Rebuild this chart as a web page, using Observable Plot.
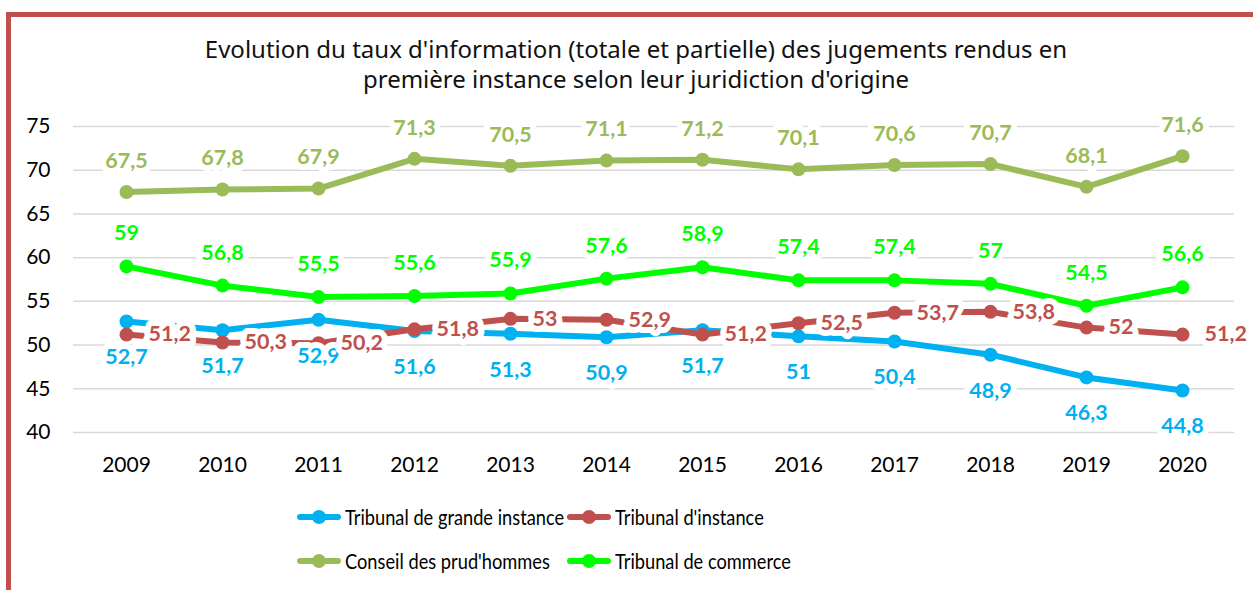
<!DOCTYPE html>
<html>
<head>
<meta charset="utf-8">
<script src="https://cdn.jsdelivr.net/npm/d3@7"></script>
<script src="https://cdn.jsdelivr.net/npm/@observablehq/plot@0.6"></script>
<style>
  html, body { margin: 0; padding: 0; background: #fff; width: 1253px; height: 590px; overflow: hidden; }
  #page { position: relative; width: 1253px; height: 590px; }
  .bar { position: absolute; background: #C0504D; }
  .tl { position: absolute; left: 12px; width: 1248px; text-align: center; height: 30px; line-height: 30px;
        font-family: "Noto Sans", sans-serif; font-size: 24px; color: #111; white-space: nowrap; }
  #chart { position: absolute; left: 0; top: 0; }
  .leg { position: absolute; display: flex; align-items: center; font-family: Lato, sans-serif; font-size: 20.5px; color: #000; white-space: nowrap; }
  .leg span { display: inline-block; transform: scaleX(0.89); transform-origin: left center; }
  .sw { position: relative; width: 44px; height: 16px; margin-right: 4px; }
  .sw .ln { position: absolute; left: 0; right: 0; top: 5px; height: 6px; border-radius: 3px; }
  .sw .dt { position: absolute; left: 15px; top: 1px; width: 14px; height: 14px; border-radius: 7px; }
</style>
</head>
<body>
<div id="page">
  <div class="bar" style="left:6px; top:12px; width:1247px; height:5px;"></div>
  <div class="bar" style="left:6px; top:12px; width:5px; height:578px;"></div>
  <div class="tl" style="top:34px;">Evolution du taux d'information (totale et partielle) des jugements rendus en</div>
  <div class="tl" style="top:64px;">première instance selon leur juridiction d'origine</div>
  <div id="chart"></div>
  <div id="legend"></div>
</div>
<script>
const years = [2009, 2010, 2011, 2012, 2013, 2014, 2015, 2016, 2017, 2018, 2019, 2020];
const seriesNames = ["Tribunal de grande instance", "Tribunal d'instance", "Conseil des prud'hommes", "Tribunal de commerce"];
const seriesColors = ["#00B0F0", "#C0504D", "#9BBB59", "#00FF00"];
const tgi = [52.7, 51.7, 52.9, 51.6, 51.3, 50.9, 51.7, 51, 50.4, 48.9, 46.3, 44.8];
const ti  = [51.2, 50.3, 50.2, 51.8, 53, 52.9, 51.2, 52.5, 53.7, 53.8, 52, 51.2];
const cph = [67.5, 67.8, 67.9, 71.3, 70.5, 71.1, 71.2, 70.1, 70.6, 70.7, 68.1, 71.6];
const tc  = [59, 56.8, 55.5, 55.6, 55.9, 57.6, 58.9, 57.4, 57.4, 57, 54.5, 56.6];
const yTicks = [40, 45, 50, 55, 60, 65, 70, 75];

const allValues = [tgi, ti, cph, tc];
const data = allValues.flatMap((vals, s) => years.map((yr, i) => ({ year: yr, value: vals[i], series: seriesNames[s] })));
const colorOf = Object.fromEntries(seriesNames.map((n, i) => [n, seriesColors[i]]));
const fmt = v => String(v).replace(".", ",");
const bySeries = n => data.filter(d => d.series === n);

const labelBase = { text: d => fmt(d.value), fill: d => colorOf[d.series], fontWeight: "bold", fontSize: 21.5,
  fontFamily: "Lato, sans-serif", stroke: "white", strokeWidth: 12, paintOrder: "stroke", strokeLinejoin: "round" };

const marks = [
  Plot.ruleY(yTicks, { stroke: "#d9d9d9", strokeWidth: 1.5 }),
  Plot.axisY({ ticks: yTicks, tickSize: 0, tickPadding: 23, label: null, fontSize: 21 }),
  Plot.axisX({ tickSize: 0, tickPadding: 25, label: null, fontSize: 21, tickFormat: d => String(d) })
];
seriesNames.forEach(n => {
  marks.push(Plot.line(bySeries(n), { x: "year", y: "value", stroke: colorOf[n], strokeWidth: 6 }));
  marks.push(Plot.dot(bySeries(n), { x: "year", y: "value", fill: colorOf[n], r: 7 }));
});
// data labels
marks.push(Plot.text(bySeries(seriesNames[0]), { ...labelBase, x: "year", y: "value", dy: 36 }));
marks.push(Plot.text(bySeries(seriesNames[1]), { ...labelBase, x: "year", y: "value", dx: 22, textAnchor: "start" }));
marks.push(Plot.text(bySeries(seriesNames[2]), { ...labelBase, x: "year", y: "value", dy: -31 }));
marks.push(Plot.text(bySeries(seriesNames[3]), { ...labelBase, x: "year", y: "value", dy: -33 }));

const chart = Plot.plot({
  width: 1253, height: 490,
  marginLeft: 73, marginRight: 19, marginTop: 126, marginBottom: 58,
  style: { fontFamily: "Lato, sans-serif", fontSize: "21px", color: "#000", background: "transparent", overflow: "visible" },
  x: { type: "point", domain: years, padding: 0.5 },
  y: { domain: [40, 75] },
  marks
});
document.getElementById("chart").appendChild(chart);

// legend
const legPos = [[297, 517], [567, 517], [297, 561], [567, 561]];
const legend = document.getElementById("legend");
seriesNames.forEach((n, i) => {
  const el = document.createElement("div");
  el.className = "leg";
  el.style.left = legPos[i][0] + "px";
  el.style.top = (legPos[i][1] - 13) + "px";
  el.style.height = "26px";
  el.innerHTML = `<div class="sw"><div class="ln" style="background:${seriesColors[i]}"></div><div class="dt" style="background:${seriesColors[i]}"></div></div><span>${n}</span>`;
  legend.appendChild(el);
});
</script>
</body>
</html>
